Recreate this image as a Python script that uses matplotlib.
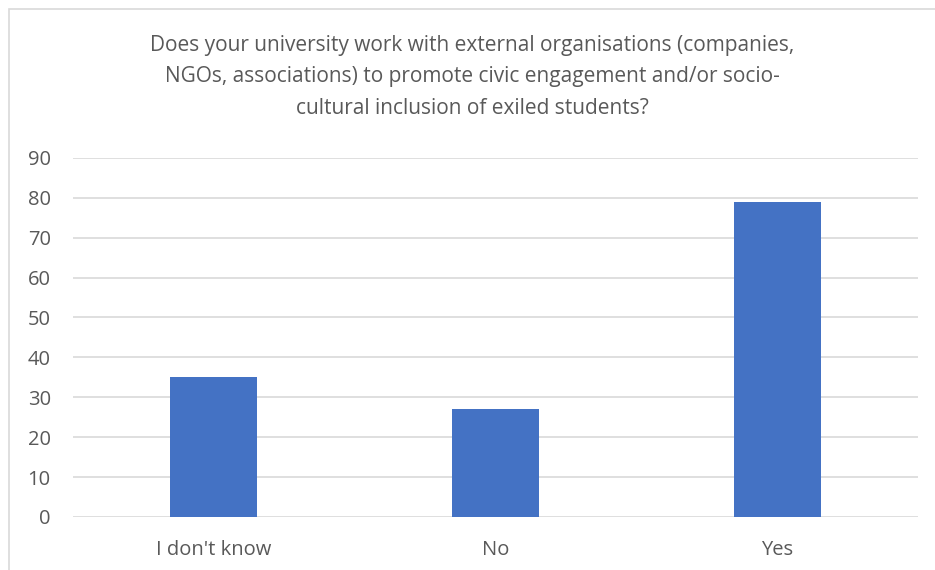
import matplotlib.pyplot as plt
from matplotlib.patches import Rectangle

# answers and counts
categories = ["I don't know", "No", "Yes"]
counts = [35, 27, 79]
y_ticks = [0, 10, 20, 30, 40, 50, 60, 70, 80, 90]

title = ("Does your university work with external organisations (companies,\n"
         "NGOs, associations) to promote civic engagement and/or socio-\n"
         "cultural inclusion of exiled students?")

plt.rcParams['font.family'] = ['Open Sans', 'DejaVu Sans']
text_col = '#595959'

fig = plt.figure(figsize=(9.35, 5.7), dpi=100)
ax = fig.add_axes([0.078, 0.093, 0.904, 0.630])

x = range(len(categories))
ax.bar(x, counts, width=0.31, color='#4472c4', zorder=3)

ax.set_xlim(-0.5, len(categories) - 0.5)
ax.set_ylim(0, 90)
ax.set_yticks(y_ticks)
ax.set_xticks(list(x))
ax.set_xticklabels(categories)
ax.tick_params(axis='both', length=0, labelsize=14.5, labelcolor=text_col)
ax.tick_params(axis='y', pad=16)
ax.tick_params(axis='x', pad=16.5)
ax.grid(axis='y', color='#d9d9d9', linewidth=1.2, zorder=0)
for side in ax.spines.values():
    side.set_visible(False)

fig.text(0.505, 0.865, title, ha='center', va='center', fontsize=15,
         color=text_col, linespacing=1.64)

# chart frame
fig.patches.append(Rectangle((9 / 935, -0.1), 1.2, 1 - 9 / 570 + 0.1,
                             transform=fig.transFigure, fill=False,
                             edgecolor='#d9d9d9', linewidth=1.2))

fig.savefig('out.png', dpi=100)
